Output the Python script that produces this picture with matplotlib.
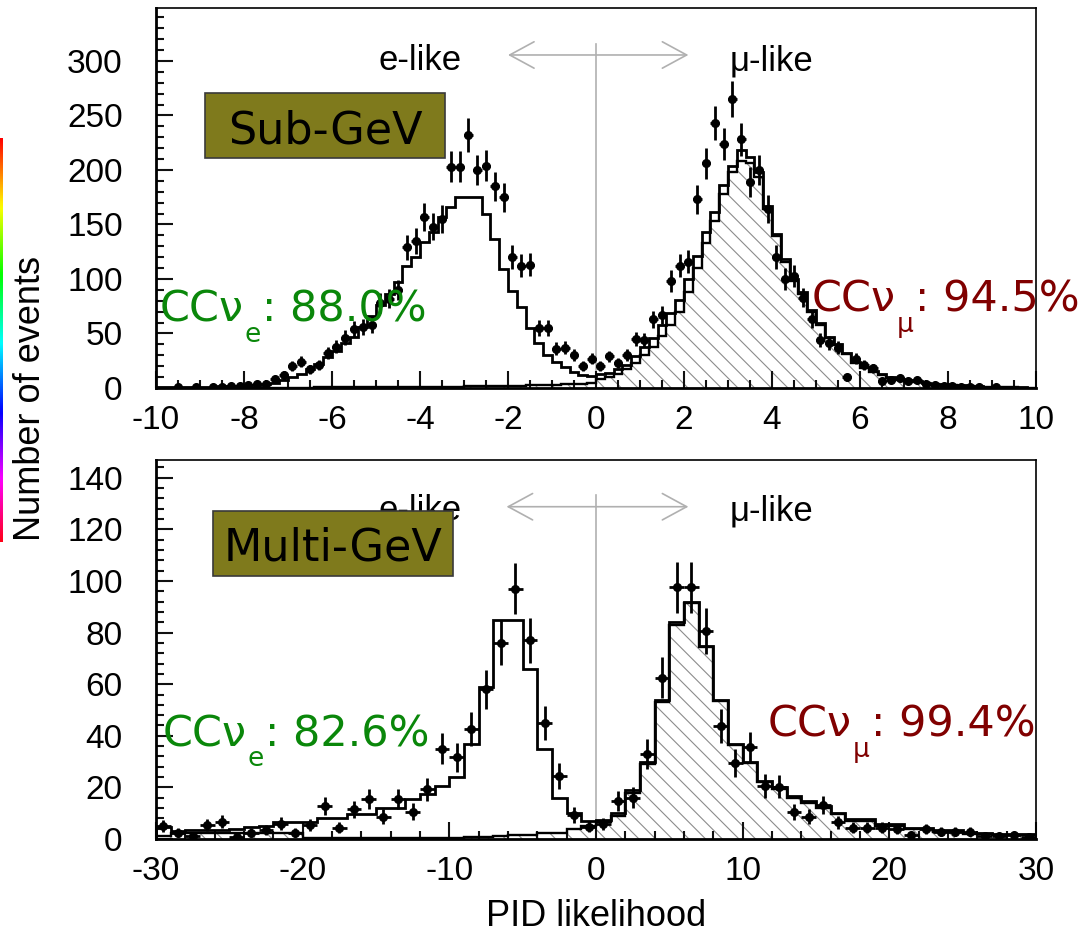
import numpy as np
import matplotlib.pyplot as plt
from matplotlib.patches import Rectangle
from matplotlib.ticker import MultipleLocator

plt.rcParams['font.family'] = ['Liberation Sans', 'DejaVu Sans']
plt.rcParams['axes.unicode_minus'] = False
plt.rcParams['hatch.linewidth'] = 0.8

# ---- Sub-GeV: bins of 0.2 from -10 to 10 ----
sub_edges = np.linspace(-10, 10, 101)
sub_total_mc = [0.5, 0.5, 0.5, 0.8, 1, 1, 1.2, 1.5, 1.8, 2,
                2.5, 3, 4, 5, 7, 10, 13, 17, 22, 28,
                34, 41, 47, 56, 66, 76, 86, 97, 112, 120,
                134, 143, 157, 166, 175, 175, 175, 160, 137, 109,
                89, 74, 55, 41, 30, 24, 19, 15, 12, 11,
                13, 14, 17, 21, 29, 38, 46, 58, 69, 81,
                100, 121, 143, 161, 186, 204, 218, 212, 198, 167,
                141, 118, 100, 88, 72, 60, 47, 40, 32, 24,
                19, 16, 13, 10, 8, 7, 6, 5, 4, 3.5,
                3, 2.5, 2, 1.5, 1.2, 1, 0.8, 0.6, 0.5, 0.4]
sub_numu_mc = [0, 0, 0, 0, 0, 0, 0, 0, 0, 0,
               0, 0, 0, 0, 0, 0, 0, 0, 0.5, 0.5,
               0.5, 0.5, 0.5, 0.5, 0.5, 0.8, 0.8, 1, 1, 1,
               1, 1, 1, 1.2, 1.2, 1.5, 1.5, 1.5, 2, 2,
               2, 2, 2.5, 2.5, 3, 3, 3.5, 4, 4, 4.5,
               8, 10, 13, 17, 23, 30, 38, 48, 58, 70,
               88, 110, 133, 153, 178, 198, 208, 206, 194, 164,
               139, 116, 98, 86, 70, 58, 46, 39, 31, 23,
               18, 15, 12, 9.5, 7.5, 6.5, 5.5, 4.5, 3.5, 3,
               2.5, 2, 1.5, 1.2, 1, 0.8, 0.6, 0.5, 0.4, 0.3]
sub_data = [0, 0, 1, 0, 1, 0, 1, 1, 2, 2,
            3, 4, 4, 8, 12, 20, 24, 17, 21, 32,
            38, 46, 54, 56, 58, 78, 82, 90, 129, 135,
            157, 148, 155, 203, 203, 232, 200, 204, 185, 175,
            120, 112, 113, 55, 55, 36, 37, 30, 20, 27,
            20, 29, 23, 30, 45, 44, 63, 67, 98, 112,
            116, 173, 206, 243, 224, 265, 228, 189, 200, 164,
            120, 100, 103, 83, 63, 44, 41, 37, 10, 27,
            21, 18, 6, 7, 9, 6, 7, 4, 3, 2,
            2, 1, 1, 1, 0, 1, 0, 0, 0, 0]

# ---- Multi-GeV: bins of 1 from -30 to 30 ----
multi_edges = np.linspace(-30, 30, 61)
multi_total_mc = [4.5, 3, 3.5, 3.5, 3.5, 4, 4.5, 5, 6.5, 6.5,
                  6.5, 8, 8, 9.5, 9.5, 12, 12, 15.5, 17.5, 20.5,
                  24, 37, 59, 85, 85, 66, 35, 16, 10, 7,
                  7.5, 10, 19, 30, 54, 84, 92, 75, 54, 37,
                  30, 22.6, 20, 16.7, 14.8, 12.8, 10.2, 7.7, 7.7, 5.7,
                  5.7, 4.4, 4.4, 3.4, 3.4, 2.5, 2.5, 1.8, 1.8, 1.8]
multi_numu_mc = [1, 2.5, 2.5, 2.5, 2.5, 2.5, 2.5, 2.5, 2.5, 2.5,
                 0.5, 0.5, 0.5, 0.5, 0.5, 0.5, 0.5, 0.5, 0.5, 0.5,
                 0.5, 0.8, 0.8, 1, 1.5, 1.5, 2.5, 2.5, 4, 5,
                 6.5, 9, 18, 29, 53, 83, 91.5, 74.5, 53.5, 36.5,
                 29.5, 22, 19.5, 16, 14, 12, 9.5, 7, 7, 5,
                 5, 3.8, 3.8, 2.8, 2.8, 2, 2, 1.4, 1.4, 1.4]
multi_data = [5, 2.5, 1.2, 5.3, 6.7, 0.8, 2.5, 3.4, 6, 2.5,
              5.4, 12.8, 4.4, 11.5, 15.4, 8.6, 15.4, 10.6, 19.3, 35,
              31.6, 42.7, 58, 76, 97, 77, 45, 24.5, 9.3, 4.8,
              5.7, 14.8, 16, 33, 62.5, 97.5, 97.5, 80.7, 43.7, 29.4,
              35.5, 20.6, 20.2, 10.5, 8.6, 13.2, 6.4, 4.4, 4.4, 4.4,
              3.8, 1.6, 3.8, 2.9, 2.9, 2.9, 1.2, 1.2, 1.6, 0.8]

sub_xticks = [-10, -8, -6, -4, -2, 0, 2, 4, 6, 8, 10]
sub_yticks = [0, 50, 100, 150, 200, 250, 300]
multi_xticks = [-30, -20, -10, 0, 10, 20, 30]
multi_yticks = [0, 20, 40, 60, 80, 100, 120, 140]

GREEN = '#0a870a'
RED = '#800000'
OLIVE = '#7f7a1c'


def draw_panel(ax, edges, total, numu, data, xerr):
    centers = 0.5 * (edges[1:] + edges[:-1])
    ax.stairs(numu, edges, fill=True, facecolor='none', edgecolor='#8c8c8c',
              hatch='\\\\', linewidth=0, zorder=1)
    ax.stairs(numu, edges, color='black', lw=1.7, zorder=2)
    ax.stairs(total, edges, color='black', lw=2.0, zorder=3)
    data = np.array(data, dtype=float)
    m = data > 0
    ax.errorbar(centers[m], data[m], yerr=np.sqrt(data[m]), xerr=xerr, fmt='o',
                color='black', ms=5.5, elinewidth=2.0, capsize=0, zorder=4)


def cc_label(ax, x, y, flavour, value, color):
    # main text, lowered subscript, then the percentage on the same baseline
    t1 = ax.text(x, y, 'CC\u03bd', transform=ax.transAxes, fontsize=31, color=color,
                 family='DejaVu Sans', ha='left', va='baseline', zorder=7)
    t2 = ax.annotate(flavour, xy=(1, 0), xycoords=t1, xytext=(0.5, 6.6),
                     textcoords='offset points', fontsize=19, color=color,
                     family='DejaVu Sans', ha='left', va='top', zorder=7)
    ax.annotate(': ' + value, xy=(1, 0), xycoords=(t2, t1), xytext=(1, 0),
                textcoords='offset points', fontsize=31, color=color,
                family='DejaVu Sans', ha='left', va='bottom', zorder=7)


def name_box(ax, x0, y0, w, h, label, baseline):
    ax.add_patch(Rectangle((x0, y0), w, h, transform=ax.transAxes, facecolor=OLIVE,
                           edgecolor='#3a3a3a', lw=1.2, zorder=5))
    ax.text(x0 + w / 2, baseline, label, transform=ax.transAxes, fontsize=32,
            family='DejaVu Sans', ha='center', va='baseline', color='black', zorder=6)


fig = plt.figure(figsize=(10.88, 9.32), dpi=100)
ax1 = fig.add_axes([156 / 1088, 1 - 388 / 932, 880 / 1088, 380 / 932])
ax2 = fig.add_axes([156 / 1088, 1 - 839 / 932, 880 / 1088, 379.5 / 932])

draw_panel(ax1, sub_edges, sub_total_mc, sub_numu_mc, sub_data, 0.1)
draw_panel(ax2, multi_edges, multi_total_mc, multi_numu_mc, multi_data, 0.5)

ax1.set_xlim(-10, 10)
ax1.set_ylim(0, 348.6)
ax1.set_xticks(sub_xticks)
ax1.set_yticks(sub_yticks)
ax1.xaxis.set_minor_locator(MultipleLocator(0.5))
ax1.yaxis.set_minor_locator(MultipleLocator(10))

ax2.set_xlim(-30, 30)
ax2.set_ylim(0, 147.1)
ax2.set_xticks(multi_xticks)
ax2.set_yticks(multi_yticks)
ax2.xaxis.set_minor_locator(MultipleLocator(2))
ax2.yaxis.set_minor_locator(MultipleLocator(4))

for ax in (ax1, ax2):
    ax.tick_params(which='both', direction='in', top=False, right=False,
                   labelsize=24, width=1.5, color='#111111')
    ax.tick_params(which='major', length=12)
    ax.tick_params(which='minor', length=6)
    ax.tick_params(axis='y', pad=24)
    ax.tick_params(axis='x', pad=12)
    for s in ('left', 'bottom'):
        ax.spines[s].set_linewidth(2)
    for s in ('top', 'right'):
        ax.spines[s].set_linewidth(1.2)

# e-like / mu-like separators
arrow_kw = dict(arrowstyle='<->,head_length=0.7,head_width=0.38', color='#b0b0b0',
                lw=1.2, shrinkA=0, shrinkB=0, mutation_scale=25)
ax1.annotate('', xy=(2.1, 305.5), xytext=(-2.0, 305.5), arrowprops=arrow_kw, zorder=0)
ax1.plot([0, 0], [0, 316], color='#b0b0b0', lw=1.2, zorder=0)
ax1.text(-4.0, 291.7, 'e-like', fontsize=25, ha='center', va='baseline')
ax1.text(4.0, 291.7, '\u03bc-like', fontsize=25, ha='center', va='baseline')

ax2.annotate('', xy=(6.3, 128.8), xytext=(-6.1, 128.8), arrowprops=arrow_kw, zorder=0)
ax2.plot([0, 0], [0, 133.3], color='#b0b0b0', lw=1.2, zorder=0)
ax2.text(-12.0, 123.6, 'e-like', fontsize=25, ha='center', va='baseline', zorder=4)
ax2.text(12.0, 123.6, '\u03bc-like', fontsize=25, ha='center', va='baseline')

name_box(ax1, 0.0557, 0.6053, 0.2727, 0.171, 'Sub-GeV', 0.6447)
name_box(ax2, 0.0648, 0.693, 0.2727, 0.1713, 'Multi-GeV', 0.735)

cc_label(ax1, 0.0045, 0.1737, 'e', '88.0%', GREEN)
cc_label(ax1, 0.7455, 0.2, '\u03bc', '94.5%', RED)
cc_label(ax2, 0.008, 0.245, 'e', '82.6%', GREEN)
cc_label(ax2, 0.6955, 0.2688, '\u03bc', '99.4%', RED)

fig.text(31 / 1088, 1 - 398 / 932, 'Number of events', rotation=90,
         ha='center', va='center', fontsize=26)
fig.text(596 / 1088, 1 - 899 / 932, 'PID likelihood', ha='center', va='top', fontsize=26)

# thin colour strip on the left edge
cax = fig.add_axes([0, 1 - 542 / 932, 3 / 1088, 404 / 932])
cax.imshow(np.linspace(0, 0.85, 256)[:, None], cmap='hsv', aspect='auto')
cax.axis('off')

fig.savefig('out.png', dpi=100)
